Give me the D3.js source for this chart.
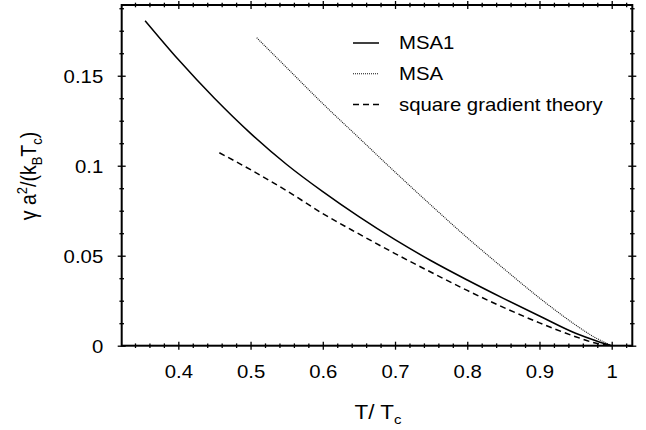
<!DOCTYPE html>
<html>
<head>
<meta charset="utf-8">
<script src="https://cdn.jsdelivr.net/npm/d3@7"></script>
<style>
  body { margin: 0; background: #fff; }
  svg { display: block; font-family: "Liberation Sans", Arial, Helvetica, sans-serif; }
</style>
</head>
<body>
<svg id="chart" width="646" height="430"></svg>
<script>
// curves: reduced temperature vs surface tension
var msa1T = [0.354, 0.4, 0.45, 0.5, 0.55, 0.6, 0.65, 0.7, 0.75, 0.8, 0.85, 0.9, 0.95, 0.98, 1.0];
var msa1V = [0.1806, 0.159, 0.1375, 0.118, 0.1007, 0.0856, 0.0717, 0.0589, 0.0472, 0.0365, 0.0263, 0.0165, 0.0069, 0.0025, 0];

var msaT = [0.5085, 0.55, 0.6, 0.65, 0.7, 0.75, 0.8, 0.85, 0.9, 0.925, 0.95, 0.975, 1.0];
var msaV = [0.1711, 0.1545, 0.1345, 0.1155, 0.0965, 0.078, 0.060, 0.043, 0.0265, 0.0188, 0.0115, 0.005, 0];

var sgtT = [0.4568, 0.5, 0.55, 0.6, 0.65, 0.7, 0.75, 0.8, 0.85, 0.9, 0.95, 0.98, 1.0];
var sgtV = [0.1072, 0.0978, 0.0861, 0.0734, 0.0621, 0.0512, 0.0408, 0.0307, 0.0213, 0.0127, 0.005, 0.0012, 0];

var xMajor = [0.4, 0.5, 0.6, 0.7, 0.8, 0.9, 1.0];
var xMinor = [0.34, 0.36, 0.38, 0.42, 0.44, 0.46, 0.48, 0.52, 0.54, 0.56, 0.58, 0.62, 0.64, 0.66, 0.68,
              0.72, 0.74, 0.76, 0.78, 0.82, 0.84, 0.86, 0.88, 0.92, 0.94, 0.96, 0.98, 1.02];
var yMajor = [0, 0.05, 0.1, 0.15];
var yMinor = [0.0125, 0.025, 0.0375, 0.0625, 0.075, 0.0875, 0.1125, 0.125, 0.1375, 0.1625, 0.175, 0.1875];

var series = [
  {name: "MSA1", t: msa1T, v: msa1V, dash: null, width: 1.5, color: "#000"},
  {name: "MSA", t: msaT, v: msaV, dash: "1,1", width: 1.1, color: "#111"},
  {name: "square gradient theory", t: sgtT, v: sgtV, dash: "6,4", width: 1.5, color: "#000"}
];

render();

function render() {
var svg = d3.select("#chart");
var pLeft = 121.7, pRight = 632.3, pTop = 5, pBottom = 345.7;
var sx = 1.15; // glyphs in the original are a bit wide
var fs = 17.7;

var x = d3.scaleLinear().domain([0.3216, 1.0285]).range([pLeft, pRight]);
var y = d3.scaleLinear().domain([0, 0.1893]).range([pBottom, pTop]);

// curves
var line = d3.line()
  .x(function(d) { return x(d[0]); })
  .y(function(d) { return y(d[1]); })
  .curve(d3.curveMonotoneX);

svg.append("g").selectAll("path")
  .data(series)
  .enter().append("path")
    .attr("d", function(s) { return line(d3.zip(s.t, s.v)); })
    .attr("fill", "none")
    .attr("stroke", function(s) { return s.color; })
    .attr("stroke-width", function(s) { return s.width; })
    .attr("stroke-dasharray", function(s) { return s.dash; });

// ticks: they cross the frame line
function tickAxis(axisFn, scale, vals, len, pos, horiz) {
  var g = svg.append("g")
    .attr("transform", horiz ? "translate(0," + pos + ")" : "translate(" + pos + ",0)")
    .call(axisFn(scale).tickValues(vals).tickFormat("").tickSize(len).tickSizeOuter(0));
  g.select(".domain").remove();
  g.selectAll(".tick line")
    .attr("stroke", "#000").attr("stroke-width", 1.3)
    .attr(horiz ? "y1" : "x1", -len).attr(horiz ? "y2" : "x2", len);
  return g;
}
[pBottom, pTop].forEach(function(p) {
  tickAxis(d3.axisBottom, x, xMajor, 4, p, true);
  tickAxis(d3.axisBottom, x, xMinor, 2.3, p, true);
});
[pLeft, pRight].forEach(function(p) {
  tickAxis(d3.axisLeft, y, yMajor, 4, p, false);
  tickAxis(d3.axisLeft, y, yMinor, 2.3, p, false);
});

// frame
svg.append("rect")
  .attr("x", pLeft).attr("y", pTop)
  .attr("width", pRight - pLeft).attr("height", pBottom - pTop)
  .attr("fill", "none").attr("stroke", "#000").attr("stroke-width", 2);

// tick labels
var xLab = svg.append("g")
  .attr("transform", "translate(0," + pBottom + ")")
  .call(d3.axisBottom(x).tickValues(xMajor).tickFormat(function(d) { return String(d); }).tickSize(0));
xLab.select(".domain").remove();
xLab.selectAll("text")
  .attr("y", 32.5).attr("dy", 0)
  .attr("font-size", fs).attr("fill", "#000")
  .attr("transform", "scale(" + sx + ",1)");
xLab.attr("font-family", null).attr("font-size", null);

var yLab = svg.append("g")
  .attr("transform", "translate(" + pLeft + ",0)")
  .call(d3.axisLeft(y).tickValues(yMajor).tickFormat(function(d) { return String(d); }).tickSize(0));
yLab.select(".domain").remove();
yLab.selectAll("text")
  .attr("x", -18.5 / sx).attr("dy", "0.38em")
  .attr("font-size", fs).attr("fill", "#000")
  .attr("transform", "scale(" + sx + ",1)");
yLab.attr("font-family", null).attr("font-size", null);

// axis titles
var xt = svg.append("text")
  .attr("transform", "translate(378,419) scale(" + sx + ",1)")
  .attr("text-anchor", "middle")
  .attr("font-size", 19.5);
xt.append("tspan").text("T/ T");
xt.append("tspan").attr("dy", 5).attr("font-size", 13).text("c");

var yt = svg.append("text")
  .attr("transform", "translate(36,176) scale(" + sx + ",1) rotate(-90)")
  .attr("text-anchor", "middle")
  .attr("font-size", 19.5);
yt.append("tspan").text("\u03b3 a");
yt.append("tspan").attr("dy", -8).attr("font-size", 13).text("2");
yt.append("tspan").attr("dy", 8).text("/(k");
yt.append("tspan").attr("dy", 5).attr("font-size", 13).text("B");
yt.append("tspan").attr("dy", -5).text("T");
yt.append("tspan").attr("dy", 5).attr("font-size", 13).text("c");
yt.append("tspan").attr("dy", -5).text(")");

// legend
var leg = svg.append("g").selectAll("g")
  .data(series)
  .enter().append("g")
    .attr("transform", function(d, i) { return "translate(0," + (43 + i * 30.8) + ")"; });
leg.append("line")
  .attr("x1", 353).attr("x2", 379)
  .attr("stroke", function(s) { return s.color; })
  .attr("stroke-width", function(s) { return s.width; })
  .attr("stroke-dasharray", function(s) { return s.dash; });
leg.append("text")
  .attr("transform", "translate(399,6.3) scale(" + sx + ",1)")
  .attr("font-size", fs)
  .text(function(s) { return s.name; });
}
</script>
</body>
</html>
